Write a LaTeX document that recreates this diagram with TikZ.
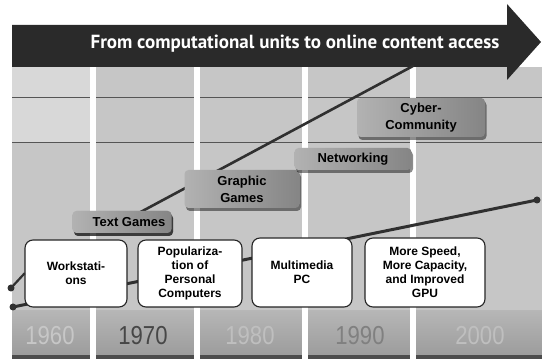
\documentclass[tikz,border=0pt]{standalone}
\usepackage{fontspec}
\setmainfont{Liberation Sans}
\newfontfamily\bannerfont{PT Sans}
\usetikzlibrary{shadows}
\definecolor{bannerfill}{HTML}{2A2A2A}
\definecolor{field}{HTML}{C6C6C6}
\definecolor{fieldlight}{HTML}{D8D8D8}
\definecolor{gridline}{HTML}{555555}
\definecolor{cellhi}{HTML}{B6B6B6}
\definecolor{cello}{HTML}{9A9A9A}
\definecolor{tagleft}{HTML}{B2B2B2}
\definecolor{tagright}{HTML}{858585}
\definecolor{trendline}{HTML}{303030}
\tikzset{
  milestone/.style={draw=black!85, line width=1.1pt, rounded corners=8pt,
    fill=white, align=center, inner sep=0pt,
    font=\bfseries\fontsize{12}{14}\selectfont},
  tagbox/.style={left color=tagleft, right color=tagright, rounded corners=4pt,
    align=center, inner sep=0pt, text=black,
    font=\bfseries\fontsize{13}{17}\selectfont,
    drop shadow={shadow xshift=1.5pt, shadow yshift=-3pt, opacity=0.45, fill=black}},
  yearcell/.style={top color=cellhi, bottom color=cello, draw=none},
  yearlabel/.style={font=\fontsize{26}{26}\selectfont, xscale=0.85},
  divider/.style={fill=white, draw=none},
  trend/.style={draw=trendline, line width=2.6pt, line cap=round},
  enddot/.style={circle, fill=trendline, inner sep=0pt, minimum size=7pt}
}
\begin{document}
\begin{tikzpicture}[x=1pt, y=-1pt]
\useasboundingbox (0,0) rectangle (542,363);
\fill[white] (0,0) rectangle (542,363);

% field behind the timeline
\fill[field] (12,67) rectangle (542,359);
\fill[fieldlight] (12,67) rectangle (93,142);

% horizontal grid lines
\draw[gridline, line width=0.9pt] (12,97) -- (542,97);
\draw[gridline, line width=0.9pt] (12,142) -- (542,142);

% year cells
\fill[yearcell] (12,311) rectangle (90,359);
\fill[yearcell] (96,311) rectangle (194,359);
\fill[yearcell] (200,311) rectangle (302,359);
\fill[yearcell] (308,311) rectangle (410,359);
\fill[yearcell] (416,311) rectangle (542,359);
\fill[black!70] (12,355) rectangle (542,359);

\node[yearlabel, text=black!22] (y60) at (50,336) {1960};
\node[yearlabel, text=black!72] (y70) at (143,336) {1970};
\node[yearlabel, text=black!25] (y80) at (250,336) {1980};
\node[yearlabel, text=black!50] (y90) at (360,336) {1990};
\node[yearlabel, text=black!25] (y00) at (480,336) {2000};

% white column dividers
\fill[divider] (90,67) rectangle (96,363);
\fill[divider] (194,67) rectangle (200,363);
\fill[divider] (302,67) rectangle (308,363);
\fill[divider] (410,67) rectangle (416,363);

% banner arrow
\fill[bannerfill] (12,25) -- (507,25) -- (507,4) -- (541,42) -- (507,80)
  -- (507,67) -- (12,67) -- cycle;
\node[text=white, font=\bannerfont\bfseries\fontsize{19}{19}\selectfont]
  (title) at (295,44) {From computational units to online content access};

% rising trend of applications
\coordinate (topend) at (413,66);
\node[tagbox, minimum width=99pt, minimum height=22pt] (tg) at (122,222) {};
\draw[trend] (tg.center) -- (topend);
\node[tagbox, minimum width=99pt, minimum height=22pt] at (122,222) {\hspace*{14pt}Text Games};
\node[tagbox, minimum width=115pt, minimum height=38pt] (gg) at (242,189) {Graphic\\Games};
\node[tagbox, minimum width=117pt, minimum height=22pt] (nw) at (353,159) {Networking};
\node[tagbox, minimum width=128pt, minimum height=39pt] (cc) at (421,117.5) {Cyber-\\Community};

% rising trend of hardware
\coordinate (lowstart) at (13,307);
\coordinate (lowend) at (537,200);
\coordinate (stubstart) at (11,288);
\draw[trend, line width=3pt] (lowstart) -- (lowend);
\node[enddot] (d1) at (lowstart) {};
\node[enddot] (d2) at (lowend) {};

\node[milestone, minimum width=102pt, minimum height=67pt] (ws) at (76,273.5) {Workstati-\\ons};
\draw[trend, line width=2.2pt] (stubstart) -- (ws.west);
\node[enddot] (d0) at (stubstart) {};
\node[milestone, minimum width=104pt, minimum height=67pt] (pc) at (190,273.5)
  {Populariza-\\tion of\\Personal\\Computers};
\node[milestone, minimum width=100pt, minimum height=69pt] (mm) at (302,272.5) {Multimedia\\PC};
\node[milestone, minimum width=120pt, minimum height=69pt] (gpu) at (425,272.5)
  {More Speed,\\More Capacity,\\and Improved\\GPU};
\end{tikzpicture}
\end{document}
